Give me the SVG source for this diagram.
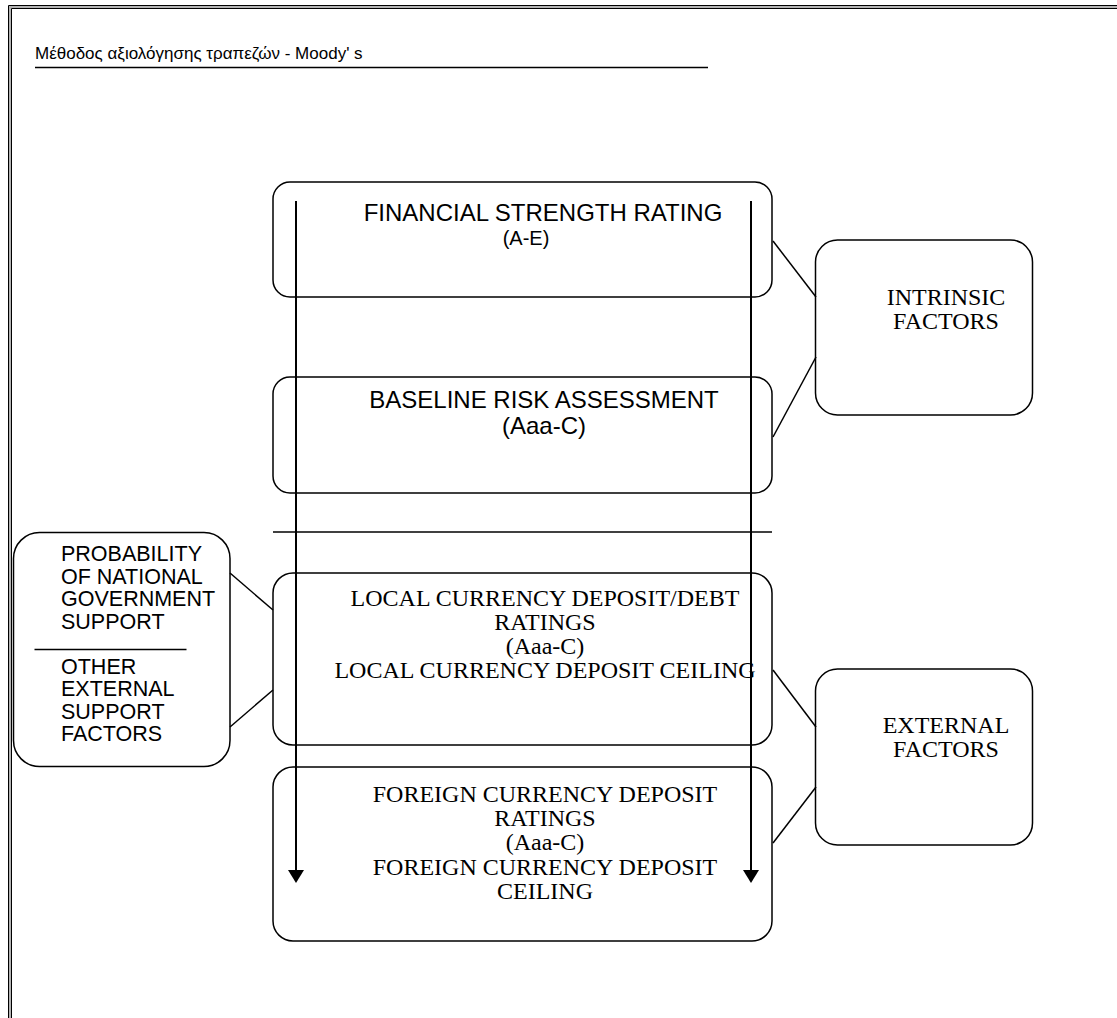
<svg xmlns="http://www.w3.org/2000/svg" width="1117" height="1018" viewBox="0 0 1117 1018">
<style>
.box{fill:#fff;stroke:#000;stroke-width:1.5}
.ln{stroke:#000;stroke-width:1.5;fill:none}
.arr{stroke:#000;stroke-width:2;fill:none}
.sans{font-family:"Liberation Sans",Arial,sans-serif;font-size:24px;fill:#000}
.sm{font-size:21.5px}
.serif{font-family:"Liberation Serif","Times New Roman",serif;font-size:24px;fill:#000}
.c{text-anchor:middle}
</style>
<defs>
<marker id="ah" markerUnits="userSpaceOnUse" markerWidth="14" markerHeight="16" refX="1" refY="8" orient="auto" viewBox="0 0 14 16">
<path d="M0 0 L13 8 L0 16 Z" fill="#000"/>
</marker>
</defs>
<rect width="1117" height="1018" fill="#fff"/>
<g id="frame">
<path d="M10 1018 V7 H1117" stroke="#b4b4b4" stroke-width="2" fill="none"/>
<path d="M8.5 1018 V5.5 H1117" stroke="#000" stroke-width="1" fill="none"/>
<path d="M11.5 1018 V8.5 H1117" stroke="#000" stroke-width="1" fill="none"/>
</g>
<g id="title">
<text class="sans" style="font-size:17px" x="35" y="59">Μέθοδος αξιολόγησης τραπεζών - Moody' s</text>
<line x1="35" y1="67.5" x2="708" y2="67.5" stroke="#000" stroke-width="1.5"/>
</g>
<g id="financial-strength">
<rect class="box" x="273" y="182" width="499" height="115" rx="17"/>
<text class="sans c" x="543" y="221">FINANCIAL STRENGTH RATING</text>
<text class="sans c" style="font-size:20px" x="526" y="245">(A-E)</text>
</g>
<g id="baseline-risk">
<rect class="box" x="273" y="377" width="499" height="116" rx="17"/>
<text class="sans c" x="544" y="408">BASELINE RISK ASSESSMENT</text>
<text class="sans c" x="544" y="434">(Aaa-C)</text>
</g>
<g id="local-currency">
<rect class="box" x="273" y="573" width="499" height="172" rx="20"/>
<text class="serif c" x="545" y="606">LOCAL CURRENCY DEPOSIT/DEBT</text>
<text class="serif c" x="545" y="630">RATINGS</text>
<text class="serif c" x="545" y="654">(Aaa-C)</text>
<text class="serif c" x="545" y="678">LOCAL CURRENCY DEPOSIT CEILING</text>
</g>
<g id="foreign-currency">
<rect class="box" x="273" y="767" width="499" height="174" rx="20"/>
<text class="serif c" x="545" y="802">FOREIGN CURRENCY DEPOSIT</text>
<text class="serif c" x="545" y="826">RATINGS</text>
<text class="serif c" x="545" y="850">(Aaa-C)</text>
<text class="serif c" x="545" y="875">FOREIGN CURRENCY DEPOSIT</text>
<text class="serif c" x="545" y="899">CEILING</text>
</g>
<g id="intrinsic-factors">
<rect class="box" x="815.5" y="240" width="217" height="175" rx="22"/>
<text class="serif c" x="946" y="305">INTRINSIC</text>
<text class="serif c" x="946" y="329">FACTORS</text>
</g>
<g id="external-factors">
<rect class="box" x="815.5" y="669" width="217" height="176" rx="22"/>
<text class="serif c" x="946" y="733">EXTERNAL</text>
<text class="serif c" x="946" y="757">FACTORS</text>
</g>
<g id="support-factors">
<rect class="box" x="13.5" y="532.5" width="216.5" height="234" rx="26"/>
<text class="sans sm" x="61" y="561">PROBABILITY</text>
<text class="sans sm" x="61" y="583.5">OF NATIONAL</text>
<text class="sans sm" x="61" y="606">GOVERNMENT</text>
<text class="sans sm" x="61" y="628.5">SUPPORT</text>
<line class="ln" x1="34.5" y1="649.5" x2="186.5" y2="649.5"/>
<text class="sans sm" x="61" y="673.5">OTHER</text>
<text class="sans sm" x="61" y="696">EXTERNAL</text>
<text class="sans sm" x="61" y="718.5">SUPPORT</text>
<text class="sans sm" x="61" y="741">FACTORS</text>
</g>
<g id="connectors">
<line class="ln" x1="273" y1="532" x2="772" y2="532"/>
<line class="ln" x1="773" y1="241" x2="816" y2="297"/>
<line class="ln" x1="816" y1="357" x2="773" y2="437"/>
<line class="ln" x1="773" y1="670" x2="816" y2="727"/>
<line class="ln" x1="816" y1="787" x2="773" y2="843"/>
<line class="ln" x1="230" y1="573" x2="273" y2="610"/>
<line class="ln" x1="273" y1="690" x2="230" y2="727"/>
<line class="arr" x1="296" y1="201" x2="296" y2="871" marker-end="url(#ah)"/>
<line class="arr" x1="751" y1="201" x2="751" y2="871" marker-end="url(#ah)"/>
</g>
</svg>
